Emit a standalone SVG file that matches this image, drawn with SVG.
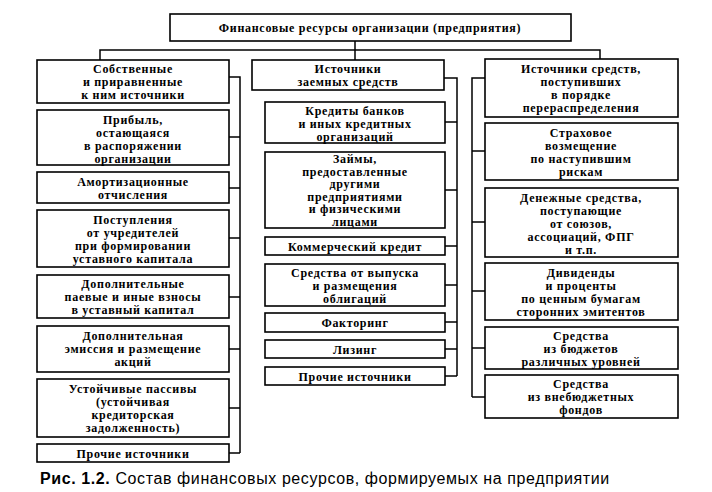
<svg xmlns="http://www.w3.org/2000/svg" width="712" height="492" viewBox="0 0 712 492">
<style>
rect{fill:#fff;stroke:#000;stroke-width:1.6}
text{font-family:"Liberation Serif","DejaVu Serif","Times New Roman",serif;font-weight:bold;font-size:12px;letter-spacing:0.7px;text-anchor:middle}
.c path{fill:none;stroke:#000;stroke-width:1.5}
.cap{font-family:"Liberation Sans",Arial,sans-serif;font-weight:normal;font-size:16px;letter-spacing:0.6px;text-anchor:start}
</style>
<rect width="712" height="492" style="fill:#fff;stroke:none"/>
<g class="c">
<path d="M100 60V50H600V59M355 41V60M355 50V60"/>
<path d="M229 77H240V453M229 137H240M229 188H240M229 238H240M229 297H240M229 349H240M229 408H240M229 453H240"/>
<path d="M444 78H457V376M445 122H457M445 190H457M445 246H457M445 285H457M445 322H457M445 349H457M445 376H457"/>
<path d="M485 78H472V397M485 151H472M485 222H472M485 291H472M485 348H472M485 397H472"/>
</g>
<g id="title"><rect x="170" y="14" width="401" height="27"/><text x="370" y="32">Финансовые ресурсы организации (предприятия)</text></g>
<g id="l1"><rect x="37" y="60" width="192" height="43"/><text x="133" y="73">Собственные</text><text x="133" y="86">и приравненные</text><text x="133" y="99">к ним источники</text></g>
<g id="l2"><rect x="37" y="110" width="192" height="55"/><text x="133" y="124">Прибыль,</text><text x="133" y="137">остающаяся</text><text x="133" y="150">в распоряжении</text><text x="133" y="163">организации</text></g>
<g id="l3"><rect x="37" y="172" width="192" height="31"/><text x="133" y="186">Амортизационные</text><text x="133" y="199">отчисления</text></g>
<g id="l4"><rect x="37" y="210" width="192" height="57"/><text x="133" y="224">Поступления</text><text x="133" y="237">от учредителей</text><text x="133" y="250">при формировании</text><text x="133" y="263">уставного капитала</text></g>
<g id="l5"><rect x="37" y="275" width="192" height="43"/><text x="133" y="288">Дополнительные</text><text x="133" y="301">паевые и иные взносы</text><text x="133" y="314">в уставный капитал</text></g>
<g id="l6"><rect x="37" y="326" width="192" height="46"/><text x="133" y="340">Дополнительная</text><text x="133" y="353">эмиссия и размещение</text><text x="133" y="366">акций</text></g>
<g id="l7"><rect x="37" y="379" width="192" height="58"/><text x="133" y="393">Устойчивые пассивы</text><text x="133" y="406">(устойчивая</text><text x="133" y="419">кредиторская</text><text x="133" y="432">задолженность)</text></g>
<g id="l8"><rect x="37" y="444" width="192" height="18"/><text x="133" y="458">Прочие источники</text></g>
<g id="m0"><rect x="252" y="60" width="192" height="30"/><text x="348" y="73">Источники</text><text x="348" y="86">заемных средств</text></g>
<g id="m1"><rect x="265" y="102" width="180" height="41"/><text x="355" y="115">Кредиты банков</text><text x="355" y="128">и иных кредитных</text><text x="355" y="141">организаций</text></g>
<g id="m2"><rect x="265" y="152" width="180" height="76"/><text x="355" y="163">Займы,</text><text x="355" y="175.5">предоставленные</text><text x="355" y="188">другими</text><text x="355" y="200.5">предприятиями</text><text x="355" y="213">и физическими</text><text x="355" y="225.5">лицами</text></g>
<g id="m3"><rect x="265" y="237" width="180" height="18"/><text x="355" y="251">Коммерческий кредит</text></g>
<g id="m4"><rect x="265" y="264" width="180" height="42"/><text x="355" y="277">Средства от выпуска</text><text x="355" y="290">и размещения</text><text x="355" y="303">облигаций</text></g>
<g id="m5"><rect x="265" y="313" width="180" height="19"/><text x="355" y="327">Факторинг</text></g>
<g id="m6"><rect x="265" y="340" width="180" height="18"/><text x="355" y="354">Лизинг</text></g>
<g id="m7"><rect x="265" y="367" width="180" height="18"/><text x="355" y="381">Прочие источники</text></g>
<g id="r1"><rect x="485" y="59" width="193" height="58"/><text x="581" y="73">Источники средств,</text><text x="581" y="86">поступивших</text><text x="581" y="99">в порядке</text><text x="581" y="112">перераспределения</text></g>
<g id="r2"><rect x="485" y="123" width="193" height="57"/><text x="581" y="137">Страховое</text><text x="581" y="150">возмещение</text><text x="581" y="163">по наступившим</text><text x="581" y="176">рискам</text></g>
<g id="r3"><rect x="485" y="188" width="193" height="69"/><text x="581" y="202">Денежные средства,</text><text x="581" y="215">поступающие</text><text x="581" y="228">от союзов,</text><text x="581" y="241">ассоциаций, ФПГ</text><text x="581" y="254">и т.п.</text></g>
<g id="r4"><rect x="485" y="263" width="193" height="57"/><text x="581" y="277">Дивиденды</text><text x="581" y="290">и проценты</text><text x="581" y="303">по ценным бумагам</text><text x="581" y="316">сторонних эмитентов</text></g>
<g id="r5"><rect x="485" y="327" width="193" height="42"/><text x="581" y="340">Средства</text><text x="581" y="353">из бюджетов</text><text x="581" y="366">различных уровней</text></g>
<g id="r6"><rect x="485" y="375" width="193" height="43"/><text x="581" y="388">Средства</text><text x="581" y="401">из внебюджетных</text><text x="581" y="414">фондов</text></g>
<text class="cap" x="40" y="484"><tspan font-weight="bold">Рис. 1.2.</tspan> Состав финансовых ресурсов, формируемых на предприятии</text>
</svg>
